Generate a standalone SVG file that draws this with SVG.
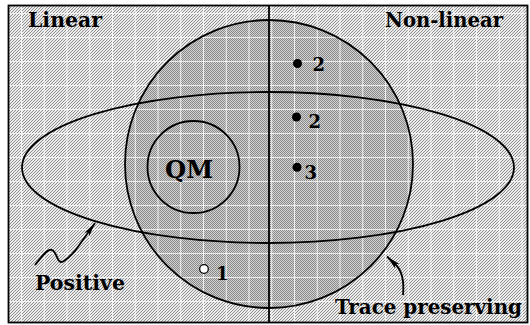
<svg xmlns="http://www.w3.org/2000/svg" width="530" height="325" viewBox="0 0 530 325">
  <defs>
    <pattern id="hatch" patternUnits="userSpaceOnUse" width="3" height="3">
      <rect width="3" height="3" fill="#ececec"/>
      <path d="M-1,1 L1,-1 M0,3 L3,0 M2,4 L4,2" stroke="#7e7e7e" stroke-width="0.85"/>
    </pattern>
    <pattern id="checker" patternUnits="userSpaceOnUse" width="2" height="2">
      <rect width="2" height="2" fill="#d2d2d2"/>
      <rect x="0" y="0" width="1" height="1" fill="#8a8a8a"/>
      <rect x="1" y="1" width="1" height="1" fill="#8a8a8a"/>
    </pattern>
    <pattern id="grid" patternUnits="userSpaceOnUse" x="21" y="13" width="22.75" height="24">
      <path d="M0,0 V24 M0,0 H22.75" stroke="#ffffff" stroke-width="1.6" fill="none"/>
    </pattern>
    <clipPath id="frameClip">
      <rect x="8.5" y="5.5" width="519" height="317"/>
    </clipPath>
    <marker id="arrow" viewBox="0 0 14 7" refX="14" refY="3.5" markerWidth="14" markerHeight="7" markerUnits="userSpaceOnUse" orient="auto">
      <path d="M0,0.5 L14,3.5 L0,6.5 L3,3.5 Z" fill="#000"/>
    </marker>
  </defs>
  <style>
    .line { fill: none; stroke: #000; stroke-width: 1.8; }
    .label { font-family: "DejaVu Serif", "Liberation Serif", serif; font-weight: bold; fill: #000; }
    .big { font-size: 21px; }
    .num { font-size: 18px; }
    .qm { font-size: 25px; }
  </style>

  <g id="background" clip-path="url(#frameClip)">
    <rect x="8.5" y="5.5" width="519" height="317" fill="url(#hatch)"/>
    <circle cx="269" cy="164" r="144" fill="url(#checker)"/>
    <rect x="8.5" y="5.5" width="519" height="317" fill="url(#grid)"/>
  </g>

  <g id="frame">
    <rect x="8.5" y="5.5" width="519" height="317" class="line" stroke-width="2"/>
    <line x1="269" y1="5.5" x2="269" y2="322.5" class="line" stroke-width="2"/>
  </g>

  <g id="trace-preserving">
    <circle cx="269" cy="164" r="144" class="line"/>
  </g>

  <g id="positive">
    <ellipse cx="268" cy="167.5" rx="246" ry="75.5" class="line"/>
  </g>

  <g id="qm">
    <circle cx="193.5" cy="167" r="46" class="line" stroke-width="1.6"/>
    <text class="label qm" x="189" y="177.5" text-anchor="middle" textLength="48" lengthAdjust="spacingAndGlyphs">QM</text>
  </g>

  <g id="point-2a">
    <circle cx="297.5" cy="63.5" r="4.5" fill="#000"/>
    <text class="label num" x="312.5" y="70.5">2</text>
  </g>
  <g id="point-2b">
    <circle cx="296.5" cy="117" r="4.5" fill="#000"/>
    <text class="label num" x="308.5" y="127.5">2</text>
  </g>
  <g id="point-3">
    <circle cx="297" cy="167.3" r="4.5" fill="#000"/>
    <text class="label num" x="304.5" y="178.5">3</text>
  </g>
  <g id="point-1">
    <circle cx="204" cy="269" r="4.3" fill="#fff" stroke="#000" stroke-width="1.2"/>
    <text class="label num" x="216" y="279.5">1</text>
  </g>

  <g id="labels">
    <text class="label big" x="28" y="27" textLength="74" lengthAdjust="spacingAndGlyphs">Linear</text>
    <text class="label big" x="385" y="27" textLength="118" lengthAdjust="spacingAndGlyphs">Non-linear</text>
    <text class="label big" x="35" y="290" textLength="90" lengthAdjust="spacingAndGlyphs">Positive</text>
    <text class="label" x="335" y="314" font-size="20" textLength="187" lengthAdjust="spacingAndGlyphs">Trace preserving</text>
  </g>

  <g id="connectors">
    <path class="line" stroke-width="1.3" marker-end="url(#arrow)" d="M35,265 C41,258 47,248 52,250 C57,252 57,262 61,262 C65,262 70,256 75,251 L95,223"/>
    <path class="line" stroke-width="1.3" marker-end="url(#arrow)" d="M403,295 C404,284 403,272 396,265 L387,256.5"/>
  </g>
</svg>
